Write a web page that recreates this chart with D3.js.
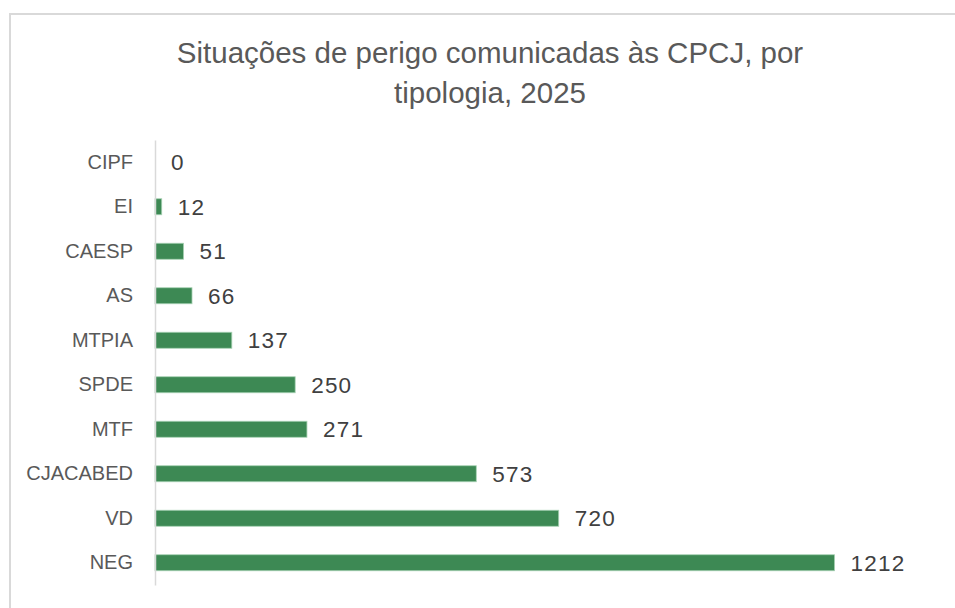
<html>
<head>
  <style>
    body { margin: 0; background: #fff; }
    svg { display: block; }
  </style>
  <script src="https://d3js.org/d3.v7.min.js"></script>
</head>
<body>
<div id="chart"></div>
<script type="text/javascript">
  var categories = ["CIPF", "EI", "CAESP", "AS", "MTPIA", "SPDE", "MTF", "CJACABED", "VD", "NEG"]
  var values = [0, 12, 51, 66, 137, 250, 271, 573, 720, 1212]
  var titleLines = ["Situações de perigo comunicadas às CPCJ, por", "tipologia, 2025"]

  var width = 955, height = 608
  var svg = d3.select("#chart").append("svg")
      .attr("width", width)
      .attr("height", height)

  // chart frame (only left and top visible)
  svg.append("rect")
      .attr("x", 10).attr("y", 14)
      .attr("width", 1000).attr("height", 700)
      .attr("fill", "#fff")
      .attr("stroke", "#d9d9d9")
      .attr("stroke-width", 2)

  svg.selectAll("text.title")
      .data(titleLines)
      .enter().append("text")
      .attr("class", "title")
      .attr("x", 490)
      .attr("y", function(d, i) { return 63 + i * 40 })
      .attr("text-anchor", "middle")
      .attr("font-family", "Liberation Sans, Arial, sans-serif")
      .attr("font-size", 29.5)
      .attr("fill", "#595959")
      .text(function(d) { return d })

  var x = d3.scaleLinear().domain([0, 1400]).range([155, 940])
  var y = d3.scaleBand().domain(categories).range([140, 585]).paddingInner(0.64).paddingOuter(0.32)

  svg.selectAll("rect.bar")
      .data(values)
      .enter().append("rect")
      .attr("class", "bar")
      .attr("x", x(0))
      .attr("y", function(d, i) { return y(categories[i]) })
      .attr("width", function(d) { return x(d) - x(0) })
      .attr("height", y.bandwidth())
      .attr("fill", "#3d8954")
      .attr("stroke", function(d) { return d > 0 ? "#a8d2b4" : "none" })
      .attr("stroke-width", 0.8)

  // category axis
  var yAxis = svg.append("g")
      .attr("transform", "translate(" + x(0) + ",0)")
      .call(d3.axisLeft(y).tickSize(0).tickPadding(22))
  yAxis.select(".domain")
      .attr("stroke", "#d9d9d9")
      .attr("stroke-width", 1.5)
  yAxis.selectAll("text")
      .attr("font-family", "Liberation Sans, Arial, sans-serif")
      .attr("font-size", 20)
      .attr("fill", "#595959")

  svg.selectAll("text.value")
      .data(values)
      .enter().append("text")
      .attr("class", "value")
      .attr("x", function(d) { return x(d) + 16 })
      .attr("y", function(d, i) { return y(categories[i]) + y.bandwidth() / 2 })
      .attr("dy", "0.36em")
      .attr("font-family", "Liberation Sans, Arial, sans-serif")
      .attr("font-size", 22.5)
      .attr("letter-spacing", 1.2)
      .attr("fill", "#404040")
      .text(function(d) { return d })
</script>
</body>
</html>
